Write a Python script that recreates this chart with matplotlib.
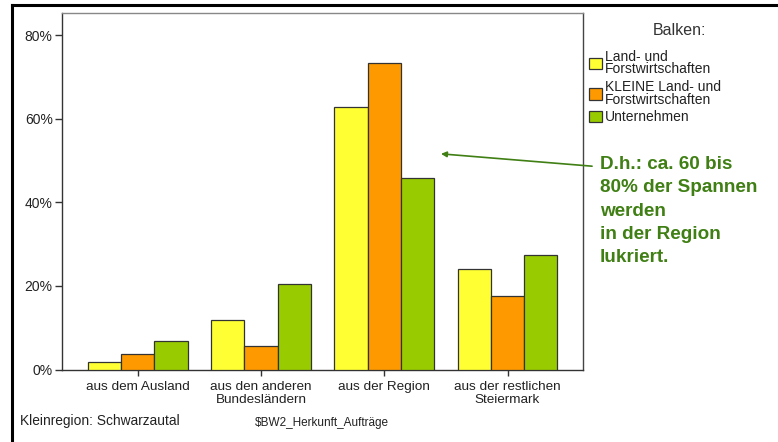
import matplotlib.pyplot as plt
from matplotlib.lines import Line2D
from matplotlib.patches import Patch
import numpy as np

plt.rcParams['font.family'] = ['Liberation Sans', 'DejaVu Sans']

categories = ["aus dem Ausland", "aus den anderen\nBundesländern",
              "aus der Region", "aus der restlichen\nSteiermark"]
series_names = ["Land- und\nForstwirtschaften",
                "KLEINE Land- und\nForstwirtschaften",
                "Unternehmen"]
land_forst = [1.7, 11.9, 62.7, 24.1]
kleine_land_forst = [3.7, 5.6, 73.4, 17.7]
unternehmen = [6.8, 20.5, 45.9, 27.4]
colors = ["#ffff33", "#ff9900", "#99cc00"]
yticks = [0, 20, 40, 60, 80]
ytick_labels = ["0%", "20%", "40%", "60%", "80%"]

fig = plt.figure(figsize=(7.78, 4.42), dpi=100)
ax = fig.add_axes([0.0793, 0.164, 0.6704, 0.8066])

x = np.arange(len(categories))
w = 0.27
for i, vals in enumerate([land_forst, kleine_land_forst, unternehmen]):
    ax.bar(x + (i - 1) * w, vals, w, color=colors[i], edgecolor="#333333",
           linewidth=0.9, label=series_names[i], zorder=3)

ax.set_xlim(-0.616, 3.614)
ax.set_ylim(0, 85.3)
ax.set_yticks(yticks)
ax.set_yticklabels(ytick_labels, fontsize=10, color="#222222")
ax.set_xticks(x)
ax.set_xticklabels(categories, fontsize=9.7, color="#222222", linespacing=1.12)
ax.tick_params(axis="y", length=5, width=1, color="#333333", pad=1.5)
ax.tick_params(axis="x", length=4.5, width=1, color="#333333", pad=4)
ax.spines["left"].set_color("#333333")
ax.spines["bottom"].set_color("#333333")
ax.spines["top"].set_color("#888888")
ax.spines["right"].set_color("#444444")
for s in ax.spines.values():
    s.set_linewidth(1.0)

# legend
fig.text(0.874, 0.932, "Balken:", fontsize=11.5, color="#333333", ha="center", va="center")
handles = [Patch(facecolor=c, edgecolor="#333333", linewidth=0.9) for c in colors]
leg = fig.legend(handles, series_names, loc="upper left",
                 bbox_to_anchor=(0.757, 0.888), frameon=False, fontsize=10,
                 handlelength=0.95, handleheight=0.9, handletextpad=0.2,
                 labelspacing=0.25, borderpad=0, borderaxespad=0)
for t in leg.get_texts():
    t.set_linespacing(0.9)
    t.set_color("#222222")

# annotation
green = "#3f7f14"
ax.annotate("", xy=(2.46, 51.6), xycoords="data",
            xytext=(0.761, 0.624), textcoords="figure fraction",
            arrowprops=dict(arrowstyle="-|>", color=green, lw=1.2,
                            mutation_scale=8, shrinkA=0, shrinkB=0),
            annotation_clip=False)
fig.text(0.771, 0.647, "D.h.: ca. 60 bis\n80% der Spannen\nwerden\nin der Region\nlukriert.",
         fontsize=13.6, fontweight="bold", color=green, ha="left", va="top",
         linespacing=1.48)

# footer texts
fig.text(0.026, 0.048, "Kleinregion: Schwarzautal", fontsize=9.9, color="#222222",
         ha="left", va="center")
fig.text(0.328, 0.042, r"\$BW2_Herkunft_Aufträge", fontsize=8.5, color="#222222",
         ha="left", va="center", family=["Liberation Sans Narrow", "Liberation Sans"])

# outer frame
fig.add_artist(Line2D([12 / 778, 1.0], [1 - 5 / 442, 1 - 5 / 442],
                      transform=fig.transFigure, color="black", lw=2.2))
fig.add_artist(Line2D([12 / 778, 12 / 778], [0, 1 - 5 / 442],
                      transform=fig.transFigure, color="black", lw=2.2))

fig.savefig("out.png", dpi=100)
